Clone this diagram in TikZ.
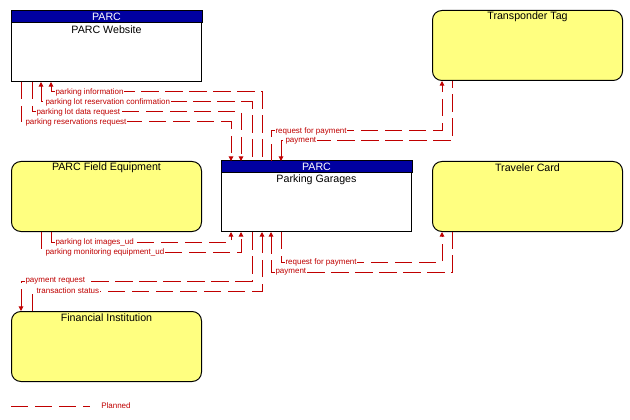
\documentclass[tikz,border=0pt]{standalone}
\usepackage{fontspec}
\setmainfont{Liberation Sans}
\usetikzlibrary{arrows.meta,calc}
\definecolor{hdrblue}{RGB}{0,0,160}
\definecolor{termyel}{RGB}{255,255,128}
\definecolor{flowred}{RGB}{192,0,0}

\tikzset{
    box/.style={draw=black,line width=0.75pt,anchor=north west,minimum width=142.5pt,minimum height=52.5pt,inner sep=0pt},
    sysbox/.style={box,fill=white},
    termbox/.style={box,fill=termyel,rounded corners=7pt},
    ttl/.style={font=\fontsize{8}{9}\selectfont,inner sep=0pt},
    flow/.style={flowred,line width=0.75pt,dash pattern=on 13pt off 5pt,>={Triangle[length=3.5pt,width=3.5pt]}},
    lbl/.style={font=\fontsize{6}{7}\selectfont,text=flowred,fill=white,inner xsep=0.5pt,inner ysep=0.5pt,anchor=west,xshift=2.5pt}
}

\begin{document}
\begin{tikzpicture}[x=0.75pt,y=-0.75pt]
    \def\hh{12} % header height
    \def\tt{7} % title offset from top
    \def\st{19} % subtitle offset from top

    \useasboundingbox (0,0) rectangle (630,420);

    % Systems with header
    \foreach \nm/\px/\py/\txt in {web/11/11/PARC Website, pg/221/161/Parking Garages} {
        \node[sysbox] (\nm) at (\px,\py) {};
        \draw[line width=0.75pt,fill=hdrblue] (\nm.north west) rectangle ($(\nm.north east)+(0,\hh)$);
        \node[ttl,text=white] (\nm-h) at ($(\nm.north)+(0,6)$) {PARC};
        \node[ttl] (\nm-t) at ($(\nm.north)+(0,\st)$) {\txt};
    }

    % Terminators
    \foreach \nm/\px/\py/\txt in {fe/11/161/PARC Field Equipment, fi/11/311/Financial Institution,
                                  tt/432/10/Transponder Tag, tc/432/161/Traveler Card} {
        \node[termbox] (\nm) at (\px,\py) {};
        \node[ttl] (\nm-t) at ($(\nm.north)+(0,\tt)$) {\txt};
    }

    % PARC Website <-> Parking Garages
    \draw[flow,<-] ($(web.south west)+(40,0)$) -- ++(0,10) -| node[lbl,pos=0] (f1) {parking information} ($(pg.north west)+(41,0)$);
    \draw[flow,<-] ($(web.south west)+(30,0)$) -- ++(0,20) -| node[lbl,pos=0] (f2) {parking lot reservation confirmation} ($(pg.north west)+(31,0)$);
    \draw[flow,->] ($(web.south west)+(21,0)$) -- ++(0,30) -| node[lbl,pos=0] (f3) {parking lot data request} ($(pg.north west)+(20,0)$);
    \draw[flow,->] ($(web.south west)+(10,0)$) -- ++(0,40) -| node[lbl,pos=0] (f4) {parking reservations request} ($(pg.north west)+(10,0)$);

    % Parking Garages <-> Transponder Tag
    \draw[flow,->] ($(pg.north west)+(50,0)$) -- ++(0,-30) -| node[lbl,pos=0] (f5) {request for payment} ($(tt.south west)+(10,0)$);
    \draw[flow,<-] ($(pg.north west)+(60,0)$) -- ++(0,-20) -| node[lbl,pos=0] (f6) {payment} ($(tt.south west)+(20,0)$);

    % PARC Field Equipment -> Parking Garages
    \draw[flow,->] ($(fe.south west)+(40,0)$) -- ++(0,10) -| node[lbl,pos=0] (f7) {parking lot images\_ud} ($(pg.south west)+(10,0)$);
    \draw[flow,->] ($(fe.south west)+(30,0)$) -- ++(0,20) -| node[lbl,pos=0] (f8) {parking monitoring equipment\_ud} ($(pg.south west)+(20,0)$);

    % Parking Garages <-> Traveler Card
    \draw[flow,->] ($(pg.south west)+(60,0)$) -- ++(0,30) -| node[lbl,pos=0] (f9) {request for payment} ($(tc.south west)+(10,0)$);
    \draw[flow,<-] ($(pg.south west)+(50,0)$) -- ++(0,40) -| node[lbl,pos=0] (f10) {payment} ($(tc.south west)+(20,0)$);

    % Financial Institution <-> Parking Garages
    \draw[flow,<-] ($(fi.north west)+(10,0)$) -- ++(0,-30) -| node[lbl,pos=0] (f11) {payment request} ($(pg.south west)+(31,0)$);
    \draw[flow,->] ($(fi.north west)+(21,0)$) -- ++(0,-20) -| node[lbl,pos=0] (f12) {transaction status} ($(pg.south west)+(41,0)$);

    % Legend
    \coordinate (lg) at (11,406);
    \node[lbl] (planned) at (97,406) {Planned};
    \draw[flow] (lg) -- ++(79,0);
\end{tikzpicture}
\end{document}
